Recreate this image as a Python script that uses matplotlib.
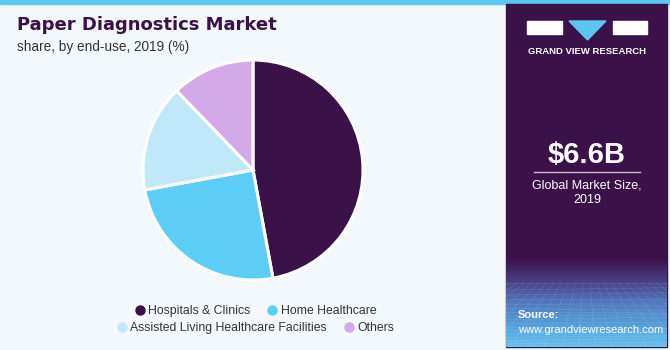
import numpy as np
import matplotlib.pyplot as plt
from matplotlib.patches import Rectangle, Polygon
from matplotlib.lines import Line2D
from matplotlib.colors import LinearSegmentedColormap

plt.rcParams['font.family'] = ['Liberation Sans', 'DejaVu Sans']

# market share by end-use, 2019 (%)
segments = ['Hospitals & Clinics', 'Home Healthcare',
            'Assisted Living Healthcare Facilities', 'Others']
shares = [47.1, 25.0, 15.7, 12.2]
colors = ['#3a1149', '#5ccdf6', '#bfe9f9', '#d4a9ea']

market_size = '$6.6B'
market_label = 'Global Market Size,\n2019'

W, H = 670, 350
bg = '#f3f8fc'
purple = '#3a1149'

fig = plt.figure(figsize=(W / 100, H / 100), dpi=100)
fig.patch.set_facecolor(bg)


def fx(px):
    return px / W


def fy(py):
    return 1 - py / H


# top accent bar
fig.patches.append(Rectangle((0, fy(4)), 1, 4 / H, transform=fig.transFigure,
                             color='#5bc6ef', zorder=-2))

# right side panel
px0, px1, py0, py1 = 506, 667, 4, 347
fig.patches.append(Rectangle((fx(px0), fy(py1)), fx(px1 - px0), (py1 - py0) / H,
                             transform=fig.transFigure, color=purple, zorder=-2))

# gradient band at bottom of the panel (y in pixels, top -> bottom)
gtop = 258
gax = fig.add_axes([fx(px0), fy(py1), fx(px1 - px0), (py1 - gtop) / H], zorder=1)
gcmap = LinearSegmentedColormap.from_list(
    'band', [(0, purple), (0.28, '#4a4488'), (0.5, '#4f78bf'),
             (0.8, '#55a6df'), (1, '#64c2ef')])
grad = np.linspace(0, 1, 200).reshape(-1, 1)
gax.imshow(grad, cmap=gcmap, aspect='auto', extent=[0, 1, 0, 1], origin='upper')
# perspective mesh below the horizon
horizon = 1 - (283 - gtop) / (py1 - gtop)
for t in np.linspace(-0.6, 1.6, 30):
    gax.plot([0.5 + (t - 0.5) * 0.6, t + 0.4 * (t - 0.5)], [horizon, 0],
             color='white', lw=0.4, alpha=0.15)
for k in range(1, 16):
    yv = horizon * (1 - (k / 16) ** 0.8)
    gax.plot([0, 1], [yv, yv + 0.03 * np.sin(k)], color='white', lw=0.4, alpha=0.15)
gax.plot([0, 1], [horizon, horizon], color='white', lw=0.5, alpha=0.12)
gax.set_xlim(0, 1)
gax.set_ylim(0, 1)
gax.axis('off')

# logo
for x0, x1 in [(527, 562), (613, 647)]:
    fig.patches.append(Rectangle((fx(x0), fy(34)), fx(x1 - x0), 13 / H,
                                 transform=fig.transFigure, color='white', zorder=2))
fig.patches.append(Polygon([(fx(569), fy(21)), (fx(606), fy(21)), (fx(587.5), fy(40))],
                           closed=True, transform=fig.transFigure, color='#5bc6ef', zorder=2))
fig.text(fx(587), fy(51), 'GRAND VIEW RESEARCH', color='white', fontsize=6.8,
         fontweight='bold', ha='center', va='center')

fig.text(fx(587), fy(155), market_size, color='white', fontsize=21,
         fontweight='bold', ha='center', va='center')
fig.lines.append(Line2D([fx(534), fx(640)], [fy(172), fy(172)], transform=fig.transFigure,
                        color='#c9bfd3', lw=1))
fig.text(fx(587), fy(193), market_label, color='white', fontsize=9,
         ha='center', va='center', linespacing=1.3)

fig.text(fx(518), fy(315), 'Source:', color='white', fontsize=8,
         fontweight='bold', ha='left', va='center', zorder=3)
fig.text(fx(518), fy(330), 'www.grandviewresearch.com', color='white', fontsize=8,
         ha='left', va='center', zorder=3)

# title
fig.text(fx(17), fy(25), 'Paper Diagnostics Market', color=purple, fontsize=13,
         fontweight='bold', ha='left', va='center', family=['DejaVu Sans'])
fig.text(fx(17), fy(47), 'share, by end-use, 2019 (%)', color='#333333', fontsize=9.8,
         ha='left', va='center')

# pie
cx, cy, r = 253, 170, 110
ax = fig.add_axes([fx(cx - r), fy(cy + r), fx(2 * r), 2 * r / H])
wedges, _ = ax.pie(shares, colors=colors, startangle=90, counterclock=False,
                   radius=1, wedgeprops=dict(edgecolor='white', linewidth=2.2))
ax.set_xlim(-1, 1)
ax.set_ylim(-1, 1)
ax.set_aspect('auto')
ax.axis('off')

# legend, two centred rows
rows = [(0, 2, 311), (2, 4, 328)]
for a, b, yy in rows:
    handles = [Line2D([], [], marker='o', ls='', color=colors[i], markersize=6.5)
               for i in range(a, b)]
    leg = fig.legend(handles, segments[a:b], loc='center', ncol=2,
                     bbox_to_anchor=(fx(255), fy(yy)), frameon=False, fontsize=8.8,
                     handletextpad=0.2, columnspacing=1.3, handlelength=1.0)
    for t in leg.get_texts():
        t.set_color('#333333')

fig.savefig('out.png', dpi=100, facecolor=bg)
